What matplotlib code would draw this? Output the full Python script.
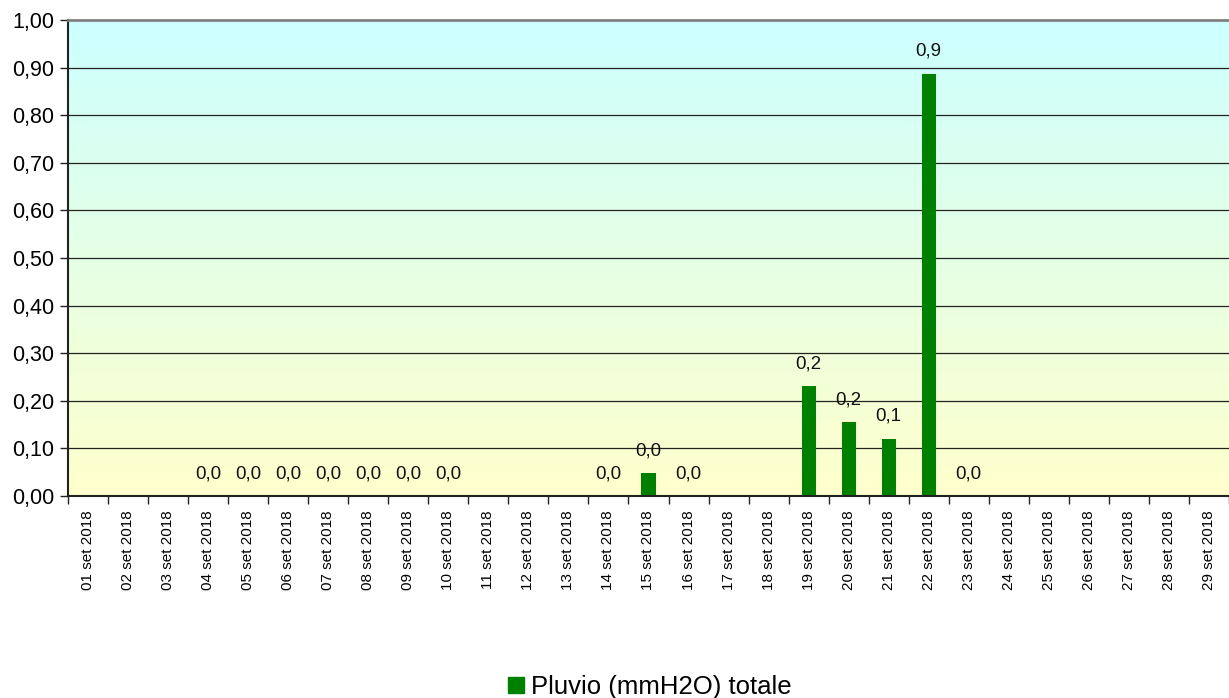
import numpy as np
import matplotlib.pyplot as plt
from matplotlib.colors import LinearSegmentedColormap
from matplotlib.patches import Patch

plt.rcParams['font.family'] = ['Liberation Sans', 'DejaVu Sans']

# data
days = ['%02d set 2018' % d for d in range(1, 30)]
# nan = no value for that day (no label drawn)
pluvio = [np.nan, np.nan, np.nan, 0.0, 0.0, 0.0, 0.0, 0.0, 0.0, 0.0,
          np.nan, np.nan, np.nan, 0.0, 0.048, 0.0, np.nan, np.nan, 0.231, 0.155,
          0.12, 0.887, 0.0, np.nan, np.nan, np.nan, np.nan, np.nan, np.nan]
yticks = np.arange(0, 1.01, 0.1)

fig = plt.figure(figsize=(12.29, 6.98), dpi=100)
ax = fig.add_axes([68/1229, 1 - 496/698, (1229 - 68)/1229, (496 - 20)/698])

n = len(days)
x = np.arange(n)
ax.set_xlim(-0.5, n - 0.5)
ax.set_ylim(0, 1.0)

# background gradient, cyan at top to pale yellow at bottom
cmap = LinearSegmentedColormap.from_list('bg', ['#ffffcc', '#ccffff'])
grad = np.linspace(0, 1, 256).reshape(-1, 1)
ax.imshow(grad, aspect='auto', cmap=cmap, origin='lower',
          extent=[-0.5, n - 0.5, 0, 1.0], zorder=0)

for yv in yticks[1:-1]:
    ax.axhline(yv, color='#222222', lw=0.9, zorder=1)

vals = np.array(pluvio, dtype=float)
ax.bar(x, np.nan_to_num(vals), width=0.35, color='#008000', zorder=2)

for xi, v in zip(x, vals):
    if np.isnan(v):
        continue
    ax.annotate(('%.1f' % v).replace('.', ','), (xi, v), xytext=(0, 10),
                textcoords='offset points', ha='center', va='bottom',
                fontsize=13.5, color='#111111', zorder=3)

ax.set_yticks(yticks)
ax.set_yticklabels([('%.2f' % t).replace('.', ',') for t in yticks], fontsize=15.5)
ax.set_xticks(x)
ax.set_xticklabels(days, rotation=90, fontsize=11)
ax.set_xticks(np.arange(-0.5, n, 1.0), minor=True)
ax.tick_params(axis='x', which='major', length=0, pad=10)
ax.tick_params(axis='x', which='minor', length=6, width=1, color='#222222')
ax.tick_params(axis='y', length=6, width=1, color='#222222', pad=4)

for s in ['right', 'bottom']:
    ax.spines[s].set_visible(False)
ax.spines['left'].set_color('#222222')
ax.spines['left'].set_linewidth(1.5)
ax.spines['top'].set_color('#808080')
ax.spines['top'].set_linewidth(2)
ax.axhline(0, color='#222222', lw=1.5, zorder=4, clip_on=False)

fig.legend(handles=[Patch(color='#008000', label='Pluvio (mmH2O) totale')],
           loc='center', bbox_to_anchor=(650/1229, 1 - 687/698), frameon=False,
           fontsize=18.5, handlelength=0.6, handleheight=0.6, handletextpad=0.3)

fig.savefig('out.png', dpi=100)
